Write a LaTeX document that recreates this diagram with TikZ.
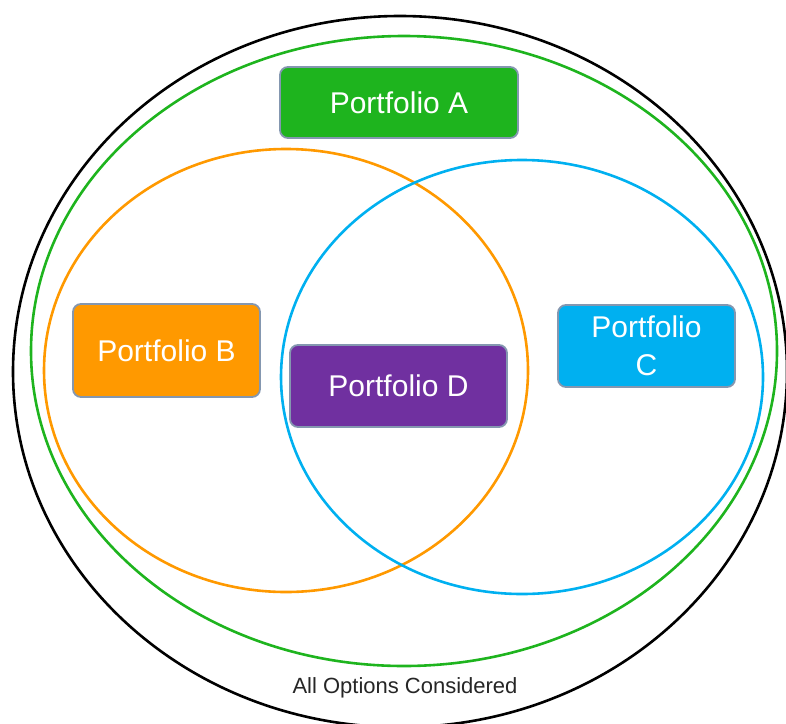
\documentclass[tikz,border=0pt]{standalone}
\usepackage{fontspec}
\setmainfont{Liberation Sans}
\usepackage{tikz}
\definecolor{pfgreen}{RGB}{30,180,30}
\definecolor{pforange}{RGB}{255,153,0}
\definecolor{pfblue}{RGB}{0,176,240}
\definecolor{pfpurple}{RGB}{112,48,160}
\definecolor{pfedge}{RGB}{132,151,176}
\tikzstyle{set}=[line width=2.6pt]
\tikzstyle{pf}=[rectangle, rounded corners=8pt, draw=pfedge, line width=1.8pt, text=white, align=center, font=\fontsize{30}{38}\selectfont, inner sep=0pt]
\tikzstyle{caption}=[font=\fontsize{22}{26}\selectfont, text=black!85]

\begin{document}
\begin{tikzpicture}[x=1pt, y=-1pt]
	\useasboundingbox (0,0) rectangle (786,723);
	\draw[set, black] (400,371.6) ellipse [x radius=387pt, y radius=355.6pt];
	\draw[set, pfgreen] (404,351) ellipse [x radius=373pt, y radius=315pt];
	\draw[set, pforange] (286,370.5) ellipse [x radius=242pt, y radius=221.5pt];
	\draw[set, pfblue] (522,377) ellipse [x radius=241pt, y radius=217pt];
	\draw (399,102.5) node[pf, fill=pfgreen, minimum width=238pt, minimum height=71pt] (pa) {Portfolio A};
	\draw (166.5,350.5) node[pf, fill=pforange, minimum width=187pt, minimum height=93pt] (pb) {Portfolio B};
	\draw (646.5,346) node[pf, fill=pfblue, minimum width=177pt, minimum height=82pt] (pc) {Portfolio\\C};
	\draw (398.5,386) node[pf, fill=pfpurple, minimum width=217pt, minimum height=82pt] (pd) {Portfolio D};
	\draw (405,688) node[caption] (all) {All Options Considered};
\end{tikzpicture}
\end{document}
